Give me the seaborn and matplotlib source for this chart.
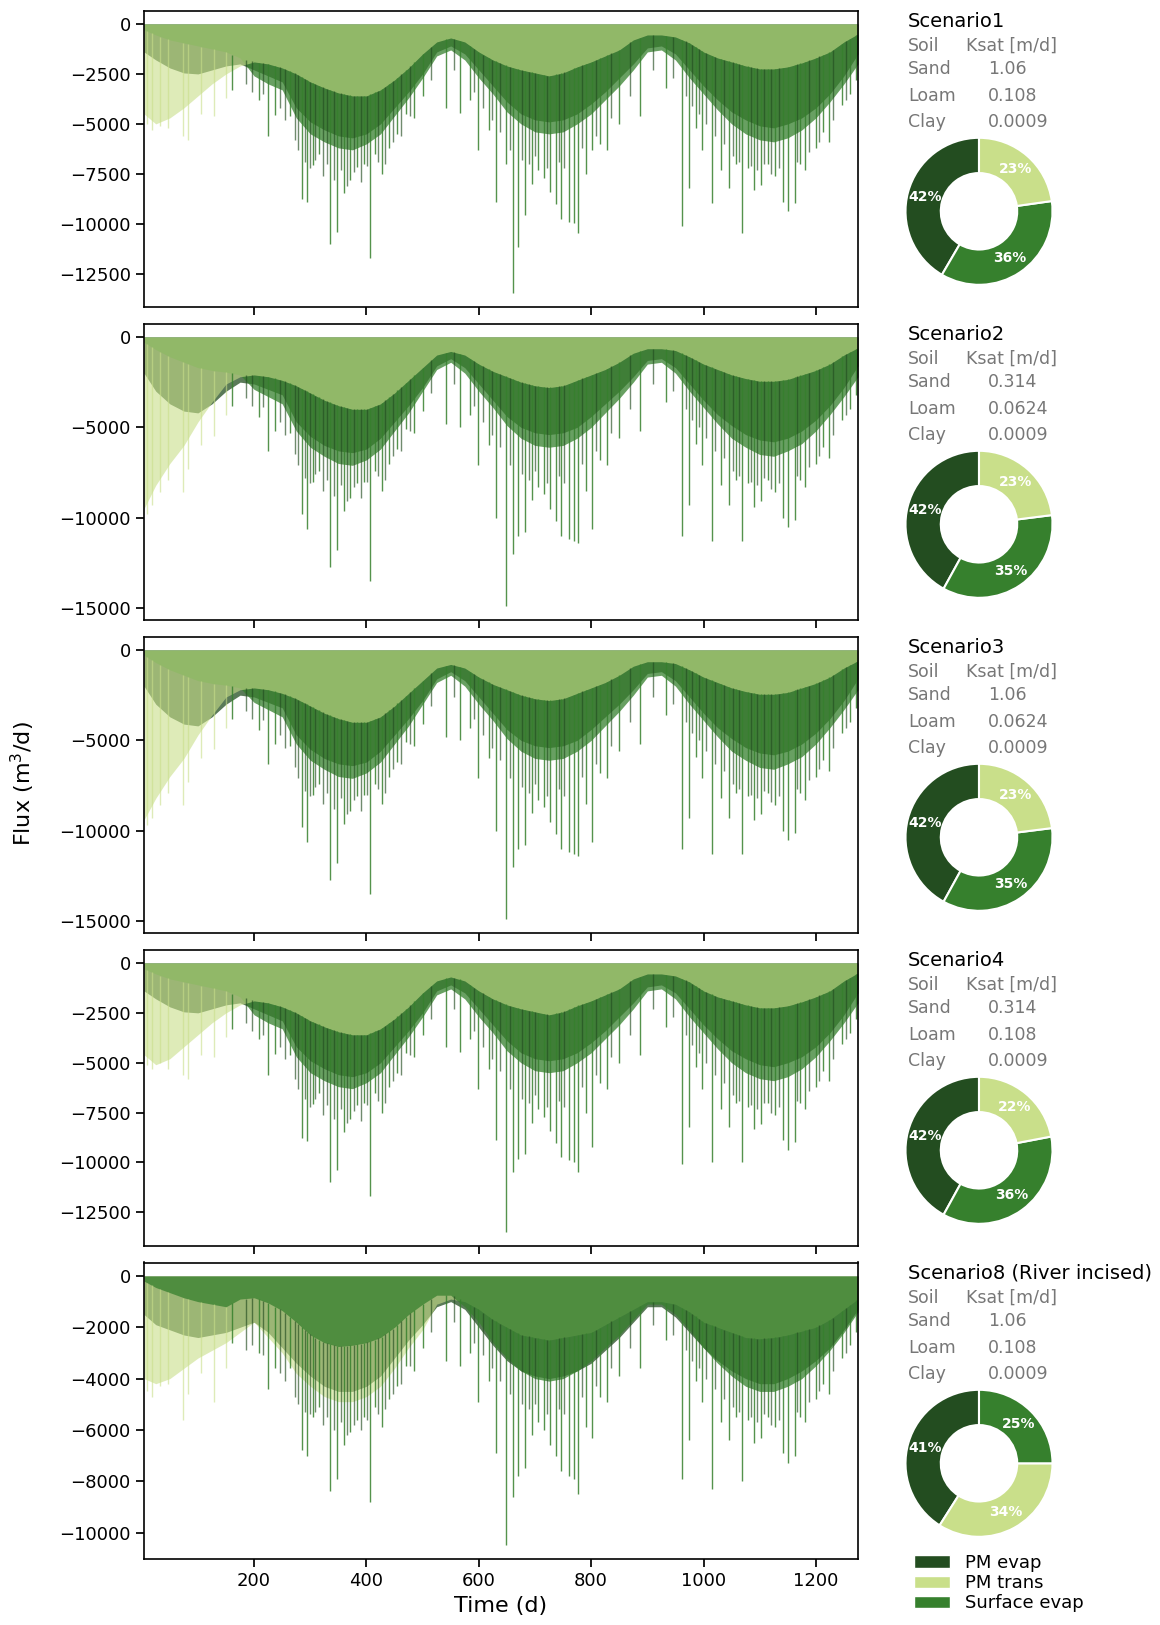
import numpy as np
import matplotlib
matplotlib.use("Agg")
import matplotlib.pyplot as plt
from matplotlib.patches import Patch
from matplotlib.ticker import MultipleLocator
import seaborn as sns

# ---------------------------------------------------------------- data
# daily fluxes (m3/d, magnitude; drawn as negative) sampled on these days
days = [4, 25, 50, 75, 100, 125, 150, 175, 200, 225, 250, 275, 300, 325, 350,
        375, 400, 425, 450, 475, 500, 525, 550, 575, 600, 625, 650, 675, 700,
        725, 750, 775, 800, 825, 850, 875, 900, 925, 950, 975, 1000, 1025,
        1050, 1075, 1100, 1125, 1150, 1175, 1200, 1225, 1250, 1275]

# rain-event days with peak surface evaporation
event_days = [161, 208, 225, 237, 264, 285, 294, 304, 315, 335, 348, 360, 371,
              384, 395, 406, 415, 427, 440, 455, 470, 485, 500, 541, 566, 585,
              599, 618, 631, 648, 661, 669, 683, 695, 706, 716, 727, 737, 746,
              760, 769, 777, 790, 801, 815, 828, 850, 887, 934, 961, 974, 986,
              998, 1015, 1031, 1046, 1057, 1068, 1079, 1089, 1102, 1115, 1128,
              1141, 1150, 1162, 1172, 1181, 1200, 1212, 1224, 1246, 1260, 1272]

# days with peak PM evaporation
evap_peak_days = [185, 196, 215, 246, 255, 272, 279, 290, 299, 309, 322, 329, 342,
                  354, 366, 378, 390, 401, 421, 433, 447, 462, 478, 515, 555, 592,
                  608, 624, 638, 655, 676, 689, 700, 722, 742, 752, 784, 808, 836,
                  870, 910, 945, 968, 980, 992, 1004, 1021, 1037, 1052, 1063, 1084,
                  1095, 1108, 1120, 1134, 1167, 1188, 1206, 1230, 1253]

# early days with peak transpiration
trans_peak_days = [10, 18, 33, 47, 74, 82, 105, 128, 150]

# Scenario 1
s1_trans = [4500, 5000, 4700, 4200, 3600, 3000, 2500, 2100, 1900, 2000, 2200, 2500, 2900, 3200, 3450,
            3600, 3600, 3300, 2800, 2200, 1500, 900, 700, 900, 1400, 1800, 2100, 2300, 2450,
            2600, 2450, 2150, 1900, 1600, 1300, 800, 550, 550, 650, 950, 1400, 1700,
            1900, 2100, 2250, 2250, 2150, 1950, 1700, 1400, 900, 500]
s1_evap = [1400, 1800, 2200, 2450, 2500, 2300, 2100, 2000, 2300, 2600, 2900, 4200, 4900, 5300, 5600,
           5700, 5500, 5000, 4200, 3400, 2500, 1400, 1100, 1500, 2300, 3100, 3900, 4500, 4800,
           4900, 4800, 4500, 4000, 3400, 2700, 2000, 1200, 1100, 1500, 2300, 3100, 3800,
           4400, 4800, 5100, 5200, 5000, 4700, 4200, 3500, 2600, 1500]
s1_surf = [300, 550, 800, 950, 1100, 1250, 1400, 1700, 2600, 3000, 3300, 4700, 5500, 5900, 6200,
           6300, 6000, 5500, 4600, 3700, 2700, 1600, 1300, 1800, 2700, 3500, 4400, 5000, 5400,
           5500, 5400, 5000, 4500, 3800, 3100, 2300, 1400, 1300, 1800, 2700, 3500, 4300,
           5000, 5500, 5800, 5900, 5700, 5300, 4700, 3900, 3000, 2000]
s1_events = [3300, 3800, 5600, 4560, 4630, 8770, 8930, 7050, 6500, 11000, 10400, 8460, 7810,
             7140, 7000, 11720, 6500, 7500, 6200, 5500, 4500, 4700, 3600, 4200, 4460, 3800,
             6300, 5300, 8890, 7000, 13480, 11140, 9550, 8000, 7300, 7700, 8400, 9000, 9740,
             9890, 9970, 10460, 7500, 6300, 6000, 6300, 5000, 4630, 3200, 10100, 8220, 5200,
             6300, 8960, 7300, 8220, 7000, 10470, 7200, 8300, 8050, 7000, 7600,
             8890, 9350, 8960, 7000, 7330, 6200, 5400, 5920, 4040, 3500, 2790]
s1_evap_peaks = [3000, 3400, 3500, 4200, 4800, 5800, 6300, 6900, 7200, 6800, 7600, 7000, 7800,
                 7300, 8100, 7400, 7900, 7100, 6900, 7000, 5900, 5600, 4600, 2800, 2300, 3400,
                 4200, 4800, 5400, 6300, 6800, 7000, 6600, 7200, 6900, 7200, 6200, 5600, 4700,
                 3600, 2300, 2700, 3600, 4100, 4500, 5000, 5600, 6000, 6600, 6900, 7100,
                 7300, 7000, 7500, 7200, 6900, 6400, 5900, 4800, 3800]
s1_trans_peaks = [5000, 5300, 5100, 5200, 5600, 5800, 4500, 4600, 3700]

# Scenario 2
s2_trans = [9500, 8200, 7000, 6000, 4700, 3600, 2600, 2200, 2100, 2200, 2400, 2700, 3100, 3500, 3800,
            4000, 4000, 3700, 3100, 2400, 1700, 1000, 800, 1000, 1500, 1900, 2200, 2500, 2700,
            2800, 2700, 2400, 2100, 1800, 1400, 900, 650, 650, 750, 1100, 1500, 1800,
            2100, 2300, 2450, 2450, 2350, 2100, 1850, 1500, 1000, 600]
s2_evap = [2000, 3000, 3700, 4100, 4200, 3700, 3000, 2500, 2600, 2900, 3200, 4700, 5500, 6000, 6300,
           6400, 6200, 5600, 4700, 3800, 2800, 1600, 1200, 1700, 2600, 3500, 4400, 5000, 5300,
           5400, 5300, 5000, 4400, 3700, 3000, 2200, 1300, 1200, 1700, 2600, 3500, 4300,
           4900, 5400, 5700, 5800, 5600, 5200, 4600, 3800, 2800, 1600]
s2_surf = [300, 700, 1100, 1400, 1700, 1850, 1950, 2100, 2900, 3300, 3700, 5200, 6100, 6600, 7000,
           7100, 6800, 6200, 5200, 4200, 3000, 1800, 1400, 2000, 3000, 3900, 4900, 5600, 6000,
           6100, 6000, 5600, 5000, 4200, 3400, 2500, 1500, 1400, 2000, 3000, 3900, 4800,
           5600, 6100, 6500, 6600, 6300, 5900, 5200, 4300, 3300, 2200]
s2_events = [3800, 4400, 6300, 5200, 5300, 9800, 10600, 8000, 7400, 12700, 11800, 9600, 8900,
             8100, 8000, 13500, 7400, 8500, 7000, 6200, 5100, 5300, 4100, 4800, 5000, 4300,
             7100, 6000, 10000, 14900, 12000, 11000, 10800, 9000, 8300, 8700, 9500, 10200, 11000,
             11200, 11300, 11400, 8500, 10600, 6800, 7100, 5600, 5200, 3600, 11000, 9300, 5900,
             7100, 11300, 8200, 9300, 7900, 11300, 8100, 9400, 9100, 7900, 8600,
             10000, 10500, 10100, 7900, 8300, 7000, 6100, 6700, 4600, 4000, 3200]
s2_evap_peaks = [3400, 3800, 3900, 4700, 5400, 6500, 7100, 7800, 8100, 7600, 8500, 7900, 8800,
                 8200, 9100, 8300, 8900, 8000, 7700, 7900, 6600, 6300, 5200, 3100, 2600, 3800,
                 4700, 5400, 6100, 7100, 7600, 7900, 7400, 8100, 7700, 8100, 7000, 6300, 5300,
                 4000, 2600, 3000, 4000, 4600, 5000, 5600, 6300, 6700, 7400, 7700, 8000,
                 8200, 7800, 8400, 8100, 7700, 7200, 6600, 5400, 4300]
s2_trans_peaks = [9800, 9300, 8600, 7900, 8600, 7300, 6000, 5500, 4300]

# Scenario 3
s3_trans = [9400, 8200, 7000, 6000, 4700, 3600, 2600, 2200, 2100, 2200, 2400, 2700, 3100, 3500, 3800,
            4000, 4000, 3700, 3100, 2400, 1700, 1000, 800, 1000, 1500, 1900, 2200, 2500, 2700,
            2800, 2700, 2400, 2100, 1800, 1400, 900, 650, 650, 750, 1100, 1500, 1800,
            2100, 2300, 2450, 2450, 2350, 2100, 1850, 1500, 1000, 600]
s3_evap = [2000, 3000, 3700, 4100, 4200, 3700, 3000, 2500, 2600, 2900, 3200, 4700, 5500, 6000, 6300,
           6400, 6200, 5600, 4700, 3800, 2800, 1600, 1200, 1700, 2600, 3500, 4400, 5000, 5300,
           5400, 5300, 5000, 4400, 3700, 3000, 2200, 1300, 1200, 1700, 2600, 3500, 4300,
           4900, 5400, 5700, 5800, 5600, 5200, 4600, 3800, 2800, 1600]
s3_surf = [300, 700, 1100, 1400, 1700, 1850, 1950, 2100, 2900, 3300, 3700, 5200, 6100, 6600, 7000,
           7100, 6800, 6200, 5200, 4200, 3000, 1800, 1400, 2000, 3000, 3900, 4900, 5600, 6000,
           6100, 6000, 5600, 5000, 4200, 3400, 2500, 1500, 1400, 2000, 3000, 3900, 4800,
           5600, 6100, 6500, 6600, 6300, 5900, 5200, 4300, 3300, 2200]
s3_events = [3800, 4400, 6300, 5200, 5300, 9800, 10600, 8000, 7400, 12700, 11800, 9600, 8900,
             8100, 8000, 13500, 7400, 8500, 7000, 6200, 5100, 5300, 4100, 4800, 5000, 4300,
             7100, 6000, 10000, 14900, 12000, 11000, 10800, 9000, 8300, 8700, 9500, 10200, 11000,
             11200, 11300, 11400, 8500, 10600, 6800, 7100, 5600, 5200, 3600, 11000, 9300, 5900,
             7100, 11300, 8200, 9300, 7900, 11300, 8100, 9400, 9100, 7900, 8600,
             10000, 10500, 10100, 7900, 8300, 7000, 6100, 6700, 4600, 4000, 3200]
s3_evap_peaks = [3400, 3800, 3900, 4700, 5400, 6500, 7100, 7800, 8100, 7600, 8500, 7900, 8800,
                 8200, 9100, 8300, 8900, 8000, 7700, 7900, 6600, 6300, 5200, 3100, 2600, 3800,
                 4700, 5400, 6100, 7100, 7600, 7900, 7400, 8100, 7700, 8100, 7000, 6300, 5300,
                 4000, 2600, 3000, 4000, 4600, 5000, 5600, 6300, 6700, 7400, 7700, 8000,
                 8200, 7800, 8400, 8100, 7700, 7200, 6600, 5400, 4300]
s3_trans_peaks = [9700, 9300, 8600, 7900, 8600, 7300, 6000, 5500, 4300]

# Scenario 4
s4_trans = [4600, 5100, 4800, 4200, 3600, 3000, 2500, 2100, 1900, 2000, 2200, 2500, 2900, 3200, 3450,
            3600, 3600, 3300, 2800, 2200, 1500, 900, 700, 900, 1400, 1800, 2100, 2300, 2450,
            2600, 2450, 2150, 1900, 1600, 1300, 800, 550, 550, 650, 950, 1400, 1700,
            1900, 2100, 2250, 2250, 2150, 1950, 1700, 1400, 900, 500]
s4_evap = [1400, 1800, 2200, 2450, 2500, 2300, 2100, 2000, 2300, 2600, 2900, 4200, 4900, 5300, 5600,
           5700, 5500, 5000, 4200, 3400, 2500, 1400, 1100, 1500, 2300, 3100, 3900, 4500, 4800,
           4900, 4800, 4500, 4000, 3400, 2700, 2000, 1200, 1100, 1500, 2300, 3100, 3800,
           4400, 4800, 5100, 5200, 5000, 4700, 4200, 3500, 2600, 1500]
s4_surf = [300, 550, 800, 950, 1100, 1250, 1400, 1700, 2600, 3000, 3300, 4700, 5500, 5900, 6200,
           6300, 6000, 5500, 4600, 3700, 2700, 1600, 1300, 1800, 2700, 3500, 4400, 5000, 5400,
           5500, 5400, 5000, 4500, 3800, 3100, 2300, 1400, 1300, 1800, 2700, 3500, 4300,
           5000, 5500, 5800, 5900, 5700, 5300, 4700, 3900, 3000, 2000]
s4_events = [3300, 3800, 5600, 4560, 4630, 8770, 8930, 7050, 6500, 11000, 10400, 8460, 7810,
             7140, 7000, 11700, 6500, 7500, 6200, 5500, 4500, 4700, 3600, 4200, 4460, 3800,
             6300, 5300, 8890, 13500, 10500, 9800, 9550, 8000, 7300, 7700, 8400, 9000, 9740,
             9890, 9970, 10460, 7500, 9200, 6000, 6300, 5000, 4630, 3200, 10100, 8220, 5200,
             6300, 10000, 7300, 8220, 7000, 10000, 7200, 8300, 8050, 7000, 7600,
             8890, 9350, 8960, 7000, 7330, 6200, 5400, 5920, 4040, 3500, 2790]
s4_evap_peaks = [3000, 3400, 3600, 4200, 4800, 5800, 6300, 6800, 7200, 6800, 7600, 7100, 7800,
                 7300, 8000, 7400, 7900, 7100, 6900, 7000, 5900, 5600, 4600, 2800, 2300, 3400,
                 4200, 4800, 5400, 6300, 6800, 7000, 6600, 7200, 6900, 7200, 6200, 5600, 4700,
                 3600, 2300, 2700, 3600, 4100, 4500, 5000, 5600, 6000, 6600, 6900, 7100,
                 7300, 7000, 7500, 7200, 6900, 6400, 5900, 4800, 3800]
s4_trans_peaks = [5100, 5300, 5000, 5300, 5600, 5800, 4600, 4700, 3700]

# Scenario 8 (river incised)
s8_trans = [4000, 4200, 4000, 3600, 3200, 2900, 2600, 2200, 1800, 2400, 3000, 3800, 4300, 4700, 4900,
            4900, 4700, 4300, 3600, 2800, 2100, 1100, 900, 1000, 1300, 1700, 2000, 2300, 2400,
            2500, 2400, 2300, 2200, 1900, 1600, 1300, 1000, 1000, 1100, 1400, 1800, 2000,
            2200, 2400, 2450, 2400, 2300, 2150, 2000, 1700, 1300, 900]
s8_evap = [1500, 1900, 2100, 2300, 2400, 2300, 2200, 2000, 1800, 2200, 2800, 3400, 3900, 4300, 4500,
           4500, 4300, 3900, 3200, 2500, 1900, 1200, 1000, 1300, 2000, 2700, 3300, 3700, 3900,
           4000, 3900, 3700, 3400, 2900, 2400, 1800, 1200, 1200, 1600, 2200, 2800, 3300,
           3700, 4000, 4200, 4200, 4000, 3700, 3300, 2800, 2100, 1300]
s8_surf = [200, 450, 650, 850, 1000, 1100, 1200, 900, 850, 1050, 1350, 1800, 2300, 2600, 2750,
           2700, 2600, 2400, 2000, 1500, 1100, 750, 750, 1200, 1800, 2600, 3200, 3700, 4000,
           4100, 4000, 3700, 3300, 2800, 2300, 1700, 1100, 1100, 1500, 2100, 2800, 3400,
           3900, 4300, 4500, 4500, 4300, 4000, 3500, 2900, 2200, 1400]
s8_events = [2600, 3000, 4400, 3600, 3600, 6800, 7000, 5500, 5100, 8400, 7900, 6600, 6100,
             5600, 5500, 8800, 5100, 5900, 4800, 4300, 3500, 3700, 2800, 3300, 3500, 3000,
             4900, 4100, 6900, 10500, 8600, 7800, 7500, 6200, 5700, 6000, 6600, 7000, 7600,
             7800, 7900, 8500, 5900, 6300, 4700, 4900, 3900, 3600, 2500, 7900, 6400, 4100,
             4900, 8300, 5700, 6400, 5500, 8000, 5600, 6500, 6300, 5500, 5900,
             6900, 7300, 7000, 5500, 5700, 4800, 4200, 4600, 3200, 2700, 2200]
s8_evap_peaks = [2900, 2700, 3100, 3800, 4100, 4700, 5000, 5300, 5400, 5300, 5800, 5500, 6000,
                 5700, 6200, 5800, 6000, 5600, 5400, 5200, 4600, 4200, 3500, 2200, 1800, 2600,
                 3100, 3600, 4100, 4600, 5000, 5200, 5000, 5400, 5200, 5400, 4700, 4300, 3600,
                 2800, 1900, 2300, 2900, 3300, 3600, 4000, 4400, 4800, 5100, 5300, 5500,
                 5700, 5400, 5800, 5600, 5300, 4900, 4500, 3700, 3000]
s8_trans_peaks = [4500, 4700, 4300, 4200, 5600, 4600, 3800, 4900, 3600]

scenario_names = ["Scenario1", "Scenario2", "Scenario3", "Scenario4",
                  "Scenario8 (River incised)"]
soils = ["Sand", "Loam", "Clay"]
ksat_values = [["1.06", "0.108", "0.0009"],
               ["0.314", "0.0624", "0.0009"],
               ["1.06", "0.0624", "0.0009"],
               ["0.314", "0.108", "0.0009"],
               ["1.06", "0.108", "0.0009"]]

# share of total ET (%) per component, in the order each donut lists them
pie_labels = [["PM evap", "Surface evap", "PM trans"]] * 4 + [["PM evap", "PM trans", "Surface evap"]]
pie_shares = [[42, 36, 23], [42, 35, 23], [42, 35, 23], [42, 36, 22], [41, 34, 25]]

series = [
    dict(trans=s1_trans, evap=s1_evap, surf=s1_surf, events=s1_events,
         epeaks=s1_evap_peaks, tpeaks=s1_trans_peaks),
    dict(trans=s2_trans, evap=s2_evap, surf=s2_surf, events=s2_events,
         epeaks=s2_evap_peaks, tpeaks=s2_trans_peaks),
    dict(trans=s3_trans, evap=s3_evap, surf=s3_surf, events=s3_events,
         epeaks=s3_evap_peaks, tpeaks=s3_trans_peaks),
    dict(trans=s4_trans, evap=s4_evap, surf=s4_surf, events=s4_events,
         epeaks=s4_evap_peaks, tpeaks=s4_trans_peaks),
    dict(trans=s8_trans, evap=s8_evap, surf=s8_surf, events=s8_events,
         epeaks=s8_evap_peaks, tpeaks=s8_trans_peaks),
]

# ---------------------------------------------------------------- style
colors = {"PM evap": "#234d20", "PM trans": "#c9df8a", "Surface evap": "#36802d"}
key_of = {"PM evap": "evap", "PM trans": "trans", "Surface evap": "surf"}
alphas = {"evap": 0.75, "trans": 0.6, "surf": 0.75}
fill_orders = [["PM evap", "Surface evap", "PM trans"]] * 4 + [["PM evap", "PM trans", "Surface evap"]]
y_steps = [2500, 5000, 5000, 2500, 2000]

sns.set_theme(style="ticks")
plt.rcParams["font.family"] = ["DejaVu Sans"]
plt.rcParams.update({"text.color": "black", "axes.labelcolor": "black",
                     "xtick.color": "black", "ytick.color": "black",
                     "axes.edgecolor": "black"})

W, H = 1160, 1625
fig = plt.figure(figsize=(W / 100, H / 100), dpi=100)


def fx(x):
    return x / W


def fy(y):
    return 1 - y / H


top0, pitch, ph = 10.5, 313.0, 296.3
ax_l, ax_r = 144, 858
grey = "#777777"

for i, name in enumerate(scenario_names):
    top = top0 + i * pitch
    ax = fig.add_axes([fx(ax_l), fy(top + ph), (ax_r - ax_l) / W, ph / H])
    d = series[i]

    for z, lab in enumerate(fill_orders[i]):
        k = key_of[lab]
        ax.fill_between(days, 0, -np.asarray(d[k]), color=colors[lab],
                        alpha=alphas[k], lw=0, zorder=2 + z)

    # daily peaks hang below the shallowest of the three curves
    shallow = np.minimum(np.minimum(d["trans"], d["evap"]), d["surf"])
    for pdays, depth, lab, a in [(trans_peak_days, d["tpeaks"], "PM trans", 0.6),
                                 (evap_peak_days, d["epeaks"], "PM evap", 0.65),
                                 (event_days, d["events"], "Surface evap", 0.85)]:
        start = -np.interp(pdays, days, shallow)
        ax.vlines(pdays, start, -np.asarray(depth), color=colors[lab],
                  alpha=a, lw=1.0, zorder=6)

    ax.set_xlim(4, 1275)
    ax.set_xticks([200, 400, 600, 800, 1000, 1200])
    ax.yaxis.set_major_locator(MultipleLocator(y_steps[i]))
    ax.tick_params(labelsize=13)
    if i < len(scenario_names) - 1:
        ax.set_xticklabels([])
    else:
        ax.set_xlabel("Time (d)", fontsize=16)
    for sp in ax.spines.values():
        sp.set_linewidth(1.2)
        sp.set_zorder(10)

    # scenario table
    fig.text(fx(908), fy(top + 16.2), name, fontsize=14, color="black", va="baseline")
    fig.text(fx(908), fy(top + 40.2), "Soil", fontsize=12.5, color=grey, va="baseline")
    fig.text(fx(966), fy(top + 40.2), "Ksat [m/d]", fontsize=12.5, color=grey, va="baseline")
    for j, (soil, base) in enumerate(zip(soils, [63.5, 90.2, 116.8])):
        fig.text(fx(908), fy(top + base), soil, fontsize=12.5, color=grey, va="baseline")
        fig.text(fx(988), fy(top + base), ksat_values[i][j], fontsize=12.5, color=grey,
                 va="baseline")

    # donut of ET shares
    r = 73.5
    cx, cy = 979, top + 200.8
    side = 2.5 * r
    pax = fig.add_axes([fx(cx - side / 2), fy(cy + side / 2), side / W, side / H])
    pax.pie(pie_shares[i], colors=[colors[l] for l in pie_labels[i]], startangle=90,
            counterclock=True, autopct="%1.0f%%", pctdistance=0.76,
            wedgeprops=dict(width=0.48, edgecolor="white", linewidth=1.5),
            textprops=dict(color="white", fontweight="bold", fontsize=10))
    pax.set_xlim(-1.25, 1.25)
    pax.set_ylim(-1.25, 1.25)
    pax.set_aspect("equal")
    pax.axis("off")

fig.text(fx(23), fy(784), "Flux (m$^3$/d)", rotation=90, fontsize=16,
         va="center", ha="center")

handles = [Patch(facecolor=colors[l], label=l) for l in ["PM evap", "PM trans", "Surface evap"]]
fig.legend(handles=handles, loc="upper left", bbox_to_anchor=(fx(914), fy(1554)),
           frameon=False, fontsize=13, borderpad=0, borderaxespad=0,
           labelspacing=0.12, handlelength=2.0, handletextpad=0.8)

fig.savefig("out.png", dpi=100)
